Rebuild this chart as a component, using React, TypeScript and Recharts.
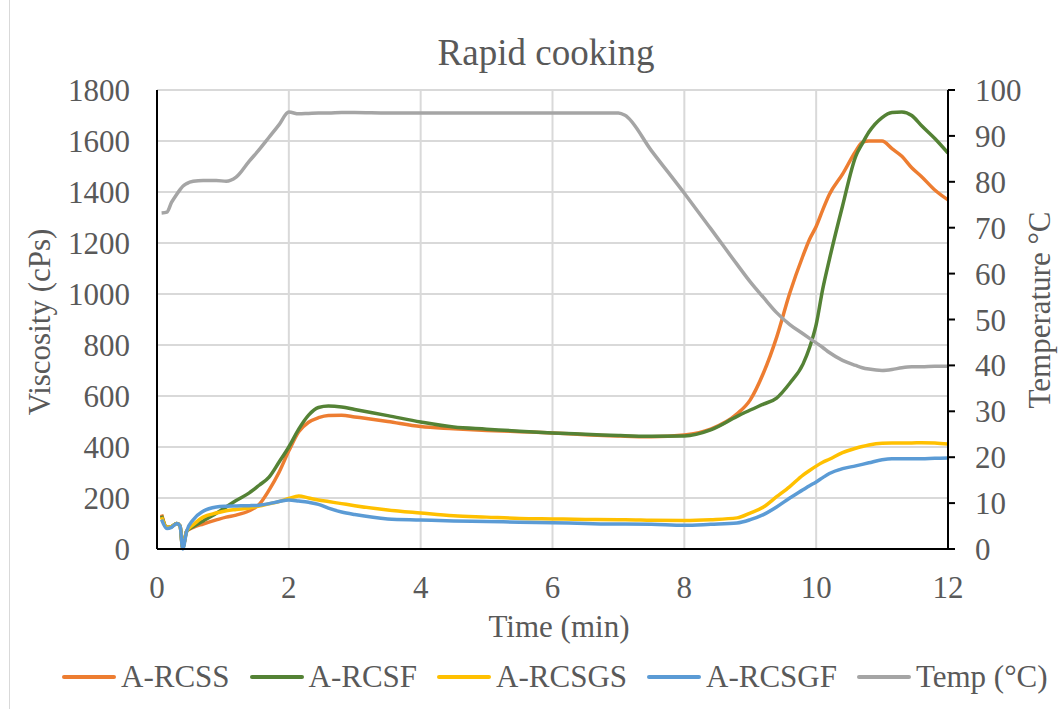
import React from 'react';
import { ComposedChart, Line, XAxis, YAxis, CartesianGrid } from 'recharts';

// time (min)
const times = [
  0.07, 0.15, 0.22, 0.3, 0.35, 0.39, 0.45, 0.55, 0.7, 0.9, 1.05, 1.2, 1.4, 1.55, 1.7, 1.85, 2.0, 2.15, 2.3,
  2.45, 2.6, 2.8, 3.0, 3.5, 4.0, 4.5, 5.0, 5.5, 6.0, 6.5, 7.0, 7.1, 7.5, 8.0, 8.4, 8.8, 9.0, 9.2, 9.4, 9.6,
  9.8, 9.9, 10.0, 10.1, 10.2, 10.4, 10.6, 10.7, 10.8, 11.0, 11.15, 11.3, 11.45, 11.6, 11.8, 12.0
];

// viscosity (cPs)
const rcss = [
  135, 85, 88, 100, 90, 5, 70, 85, 98, 114, 125, 133, 150, 175, 231, 300, 385, 460, 497,
  515, 524, 525, 518, 500, 480, 472, 465, 460, 455, 448, 443, 442, 440, 447, 470, 530, 585, 690, 830, 1004,
  1150, 1215, 1265, 1330, 1390, 1470, 1560, 1595, 1600, 1600, 1570, 1540, 1495, 1460, 1408, 1369
];
const rcsf = [
  130, 85, 88, 100, 90, 5, 70, 88, 110, 140, 165, 190, 220, 250, 282, 340, 400, 470, 525,
  555, 561, 557, 547, 523, 498, 478, 470, 462, 455, 450, 445, 444, 442, 443, 467, 520, 545, 568, 592, 650,
  725, 790, 880, 1020, 1135, 1345, 1540, 1590, 1635, 1692, 1712, 1714, 1700, 1660, 1610, 1553
];
const rcsgs = [
  125, 85, 88, 100, 90, 5, 70, 95, 125, 141, 150, 155, 161, 168, 177, 186, 198, 208, 200,
  192, 186, 178, 170, 153, 141, 130, 125, 120, 118, 116, 115, 115, 113, 112, 115, 122, 141, 165, 205, 245,
  290, 308, 325, 340, 352, 378, 395, 402, 408, 415, 416, 416, 416, 417, 416, 412
];
const rcsgf = [
  115, 80, 85, 100, 90, 0, 70, 115, 148, 165, 168, 169, 170, 172, 178, 186, 192, 188, 183,
  175, 160, 145, 135, 118, 114, 110, 108, 105, 103, 100, 98, 98, 97, 93, 97, 102, 115, 135, 165, 200,
  232, 248, 263, 280, 296, 315, 326, 332, 338, 350, 354, 354, 354, 354, 356, 357
];
// temperature (°C)
const temp = [
  73.2, 73.4, 75.5, 77.3, 78.3, 79.0, 79.6, 80.1, 80.3, 80.3, 80.1, 81.0, 84.5, 87.0, 89.7, 92.4, 95.2, 94.8, 94.9,
  95.0, 95.0, 95.1, 95.1, 95.0, 95.0, 95.0, 95.0, 95.0, 95.0, 95.0, 95.0, 94.5, 86.8, 77.5, 69.8, 62.0, 58.2, 54.8, 51.5, 48.9,
  46.9, 45.9, 44.9, 43.9, 42.8, 41.1, 40.0, 39.5, 39.2, 38.9, 39.1, 39.5, 39.7, 39.7, 39.8, 39.8
];

const xTicks = [0, 2, 4, 6, 8, 10, 12];
const leftTicks = [0, 200, 400, 600, 800, 1000, 1200, 1400, 1600, 1800];
const rightTicks = [0, 10, 20, 30, 40, 50, 60, 70, 80, 90, 100];

const series = [
  { key: 'rcss', name: 'A-RCSS', color: '#ED7D31', axis: 'left' },
  { key: 'rcsf', name: 'A-RCSF', color: '#548235', axis: 'left' },
  { key: 'rcsgs', name: 'A-RCSGS', color: '#FFC000', axis: 'left' },
  { key: 'rcsgf', name: 'A-RCSGF', color: '#5B9BD5', axis: 'left' },
  { key: 'temp', name: 'Temp (°C)', color: '#A5A5A5', axis: 'right' }
];

const data = times.map((t, i) => ({
  t,
  rcss: rcss[i],
  rcsf: rcsf[i],
  rcsgs: rcsgs[i],
  rcsgf: rcsgf[i],
  temp: temp[i]
}));

const FONT = '"Liberation Serif", "Times New Roman", serif';
const TEXT = '#595959';

export default function App() {
  const tick = { fill: TEXT, fontSize: 31, fontFamily: FONT };
  return (
    <div style={{ position: 'absolute', left: 0, top: 0, width: 1061, height: 709, background: '#fff' }}>
      <div style={{ position: 'absolute', left: 9, top: 0, width: 0, height: 709, borderLeft: '1px solid #d9d9d9' }} />
      <ComposedChart width={1061} height={709} data={data} margin={{ top: 90, right: 0, bottom: 60, left: 0 }}>
        <CartesianGrid yAxisId="left" stroke="#d9d9d9" strokeWidth={2} />
        <XAxis
          dataKey="t"
          type="number"
          domain={[0, 12]}
          ticks={xTicks}
          interval={0}
          height={100}
          tickLine={false}
          tickSize={0}
          tickMargin={27}
          axisLine={{ stroke: '#000', strokeWidth: 2 }}
          tick={tick}
        />
        <YAxis
          yAxisId="left"
          domain={[0, 1800]}
          ticks={leftTicks}
          interval={0}
          width={157}
          tickLine={false}
          tickSize={0}
          tickMargin={27}
          axisLine={{ stroke: '#000', strokeWidth: 2 }}
          tick={tick}
        />
        <YAxis
          yAxisId="right"
          orientation="right"
          domain={[0, 100]}
          ticks={rightTicks}
          interval={0}
          width={113}
          tickSize={7}
          tickMargin={20}
          tickLine={{ stroke: '#000', strokeWidth: 2 }}
          axisLine={{ stroke: '#000', strokeWidth: 2 }}
          tick={{ ...tick, textAnchor: 'start' }}
        />
        {series.map((s) => (
          <Line
            key={s.key}
            yAxisId={s.axis}
            type="monotone"
            dataKey={s.key}
            name={s.name}
            stroke={s.color}
            strokeWidth={3.5}
            dot={false}
            activeDot={false}
            isAnimationActive={false}
          />
        ))}
      </ComposedChart>

      {/* titles */}
      <svg width={1061} height={709} style={{ position: 'absolute', left: 0, top: 0, pointerEvents: 'none' }}>
        <text x={546} y={65} textAnchor="middle" fontFamily={FONT} fontSize={37} fill={TEXT}>
          Rapid cooking
        </text>
        <text x={559} y={637} textAnchor="middle" fontFamily={FONT} fontSize={31} fill={TEXT}>
          Time (min)
        </text>
        <text x={50} y={322} textAnchor="middle" fontFamily={FONT} fontSize={31} fill={TEXT} transform="rotate(-90 50 322)">
          Viscosity (cPs)
        </text>
        <text x={1050} y={310} textAnchor="middle" fontFamily={FONT} fontSize={31} fill={TEXT} transform="rotate(-90 1050 310)">
          Temperature °C
        </text>
      </svg>

      {/* legend */}
      <div
        style={{
          position: 'absolute',
          left: 62,
          top: 661,
          display: 'flex',
          alignItems: 'center',
          fontFamily: FONT,
          fontSize: 31,
          lineHeight: '31px',
          color: TEXT,
          whiteSpace: 'nowrap'
        }}
      >
        {series.map((s) => (
          <div key={s.key} style={{ display: 'flex', alignItems: 'center', marginRight: 20 }}>
            <div style={{ width: 54, height: 4, background: s.color, borderRadius: 2, marginRight: 5 }} />
            <span>{s.name}</span>
          </div>
        ))}
      </div>
    </div>
  );
}
